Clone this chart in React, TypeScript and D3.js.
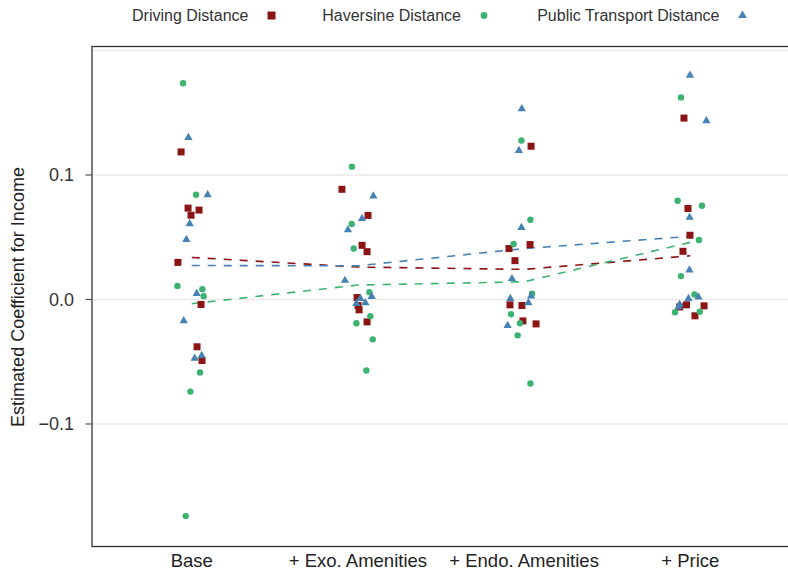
import React from "react";
import * as d3 from "d3";

const categories = ["Base", "+ Exo. Amenities", "+ Endo. Amenities", "+ Price"];
const seriesNames = ["Driving Distance", "Haversine Distance", "Public Transport Distance"];
const seriesColors = ["#8B1414", "#3CB371", "#4682B4"];
const yTicks = [0.1, 0.0, -0.1];
const yGrid = [0.2, 0.1, 0.0, -0.1];

// values per category (Base, Exo, Endo, Price)
const drivingValues = [
  [0.1185, 0.0734, 0.0677, 0.0718, 0.0298, -0.004, -0.038, -0.049],
  [0.0885, 0.0675, 0.0435, 0.0384, 0.0016, -0.0048, -0.0083, -0.018],
  [0.1231, 0.0441, 0.0409, 0.0312, -0.0043, -0.0048, -0.0172, -0.0196],
  [0.1457, 0.0731, 0.0516, 0.0387, -0.0043, -0.0051, -0.0131, -0.006],
];
const drivingJitter = [
  [-0.064, -0.022, -0.004, 0.044, -0.083, 0.056, 0.032, 0.062],
  [-0.096, 0.061, 0.025, 0.055, -0.005, 0.001, 0.007, 0.055],
  [0.042, 0.036, -0.091, -0.055, -0.085, -0.013, -0.007, 0.072],
  [-0.038, -0.014, -0.002, -0.044, -0.023, 0.083, 0.028, -0.064],
];
const haversineValues = [
  [0.1737, 0.0841, 0.0108, 0.0083, 0.0027, -0.0586, -0.074, -0.174],
  [0.1067, 0.0607, 0.0409, 0.0059, -0.0134, -0.0191, -0.032, -0.057],
  [0.1277, 0.064, 0.0446, 0.0046, -0.0118, -0.0191, -0.0288, -0.0675],
  [0.1623, 0.0793, 0.0753, 0.0478, 0.0188, 0.004, -0.0099, -0.0102],
];
const haversineJitter = [
  [-0.052, 0.026, -0.086, 0.064, 0.072, 0.05, -0.008, -0.036],
  [-0.036, -0.037, -0.025, 0.069, 0.075, -0.009, 0.089, 0.051],
  [-0.016, 0.038, -0.063, 0.048, -0.079, -0.025, -0.039, 0.038],
  [-0.056, -0.076, 0.07, 0.052, -0.056, 0.025, 0.057, -0.092],
];
const transportValues = [
  [0.13, 0.0841, 0.0607, 0.0481, 0.0048, -0.0172, -0.0473, -0.045],
  [0.0831, 0.065, 0.0559, 0.0153, 0.0024, 0.0008, -0.0032, -0.0027],
  [0.1532, 0.1196, 0.0578, 0.0167, 0.0008, 0.0027, -0.0027, -0.021],
  [0.18, 0.1435, 0.0659, 0.0237, 0.0008, 0.0019, -0.004, -0.006],
];
const transportJitter = [
  [-0.02, 0.096, -0.012, -0.032, 0.03, -0.048, 0.018, 0.06],
  [0.093, 0.025, -0.06, -0.078, 0.083, 0.015, -0.009, 0.045],
  [-0.014, -0.031, -0.016, -0.073, -0.083, 0.042, 0.026, -0.099],
  [-0.002, 0.097, -0.004, -0.005, -0.011, 0.049, -0.064, -0.07],
];

const W = 788;
const H = 571;
const FONT = "'Liberation Sans', Arial, Helvetica, sans-serif";

export default function App() {
  const left = 92, right = 790, top = 46.5, bottom = 546.5;
  const x = d3.scalePoint<string>().domain(categories).range([left, right]).padding(0.6);
  const step = x.step();
  const y = d3.scaleLinear().domain([-0.1984, 0.2032]).range([bottom, top]);

  const allValues = [drivingValues, haversineValues, transportValues];
  const allJitter = [drivingJitter, haversineJitter, transportJitter];

  const line = d3.line<[number, number]>().x((d) => d[0]).y((d) => d[1]);
  const triPath = d3.symbol(d3.symbolTriangle, 30)() as string;
  const triLegend = d3.symbol(d3.symbolTriangle, 34)() as string;

  const marker = (s: number, cx: number, cy: number, key: string, legend = false) => {
    const col = seriesColors[s];
    if (s === 0) {
      const a = legend ? 8 : 7;
      return <rect key={key} x={cx - a / 2} y={cy - a / 2} width={a} height={a} fill={col} />;
    }
    if (s === 1) return <circle key={key} cx={cx} cy={cy} r={legend ? 3.4 : 3.2} fill={col} />;
    return <path key={key} d={legend ? triLegend : triPath} transform={`translate(${cx},${cy})`} fill={col} />;
  };

  const legendKeyX = [271.5, 484, 742.5];

  return (
    <svg width={W} height={H} style={{ position: "absolute", left: 0, top: 0, background: "#fff" }} fontFamily={FONT}>
      {/* grid */}
      {yGrid.map((v) => (
        <line key={"g" + v} x1={left} x2={right} y1={y(v)} y2={y(v)} stroke="#ebebeb" strokeWidth={1.5} />
      ))}
      {/* mean lines */}
      {allValues.map((vals, s) => {
        const pts: [number, number][] = categories.map((c, i) => [x(c) as number, y(d3.mean(vals[i]) as number)]);
        return (
          <path key={"l" + s} d={line(pts) as string} fill="none" stroke={seriesColors[s]} strokeWidth={1.6} strokeDasharray="8,8" />
        );
      })}
      {/* points */}
      {allValues.map((vals, s) =>
        categories.map((c, i) =>
          vals[i].map((v, j) => marker(s, (x(c) as number) + allJitter[s][i][j] * step, y(v), `p${s}-${i}-${j}`))
        )
      )}
      {/* panel border */}
      <rect x={left} y={top} width={right - left} height={bottom - top} fill="none" stroke="#333" strokeWidth={1.3} />
      {/* y ticks */}
      {yTicks.map((v) => (
        <g key={"t" + v}>
          <line x1={85.5} x2={left} y1={y(v)} y2={y(v)} stroke="#555" strokeWidth={1.2} />
          <text x={74} y={y(v) + 6.3} textAnchor="end" fontSize={18} fill="#333">
            {v === 0 ? "0.0" : v < 0 ? "\u2212" + Math.abs(v).toFixed(1) : v.toFixed(1)}
          </text>
        </g>
      ))}
      {/* x labels */}
      {categories.map((c) => (
        <text key={"x" + c} x={x(c) as number} y={567} textAnchor="middle" fontSize={18.5} fill="#222">
          {c}
        </text>
      ))}
      {/* y title */}
      <text transform="translate(24,297) rotate(-90)" textAnchor="middle" fontSize={18} fill="#222">
        Estimated Coefficient for Income
      </text>
      {/* legend */}
      {seriesNames.map((n, s) => (
        <g key={"lg" + s}>
          <text x={legendKeyX[s] - 23} y={21} textAnchor="end" fontSize={16} fill="#333">
            {n}
          </text>
          {marker(s, legendKeyX[s], 15.5, "lk" + s, true)}
        </g>
      ))}
    </svg>
  );
}
